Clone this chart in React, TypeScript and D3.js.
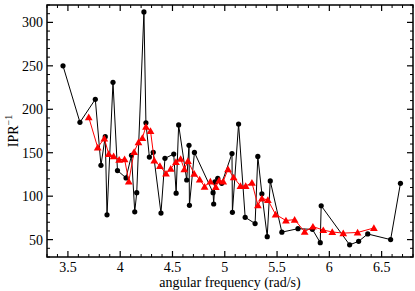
import React from "react";
import * as d3 from "d3";

const blackX = [3.453,3.615,3.762,3.816,3.857,3.874,3.931,3.974,4.056,4.108,4.139,4.158,4.227,4.246,4.279,4.316,4.39,4.428,4.512,4.535,4.559,4.636,4.658,4.662,4.71,4.888,4.894,4.906,4.933,4.971,5.069,5.073,5.132,5.195,5.29,5.316,5.355,5.406,5.435,5.546,5.70,5.838,5.913,5.922,6.194,6.28,6.367,6.586,6.68];
const blackY = [250,185,211.5,135.5,168.5,78.5,231,129.5,121,147,82,104,312,184.5,145,150.5,80.6,143.5,148.5,103.5,182,118.6,158.5,89.5,150.3,104,91,116.6,120.6,114.8,149,81.4,183,75.7,68.5,145.7,102.7,53.4,117.5,58.6,62.6,61.8,46.5,89,44,48,56.5,50,114.8];

const redX = [3.699,3.785,3.848,3.89,3.937,3.99,4.042,4.082,4.133,4.175,4.212,4.246,4.29,4.326,4.38,4.438,4.483,4.533,4.578,4.613,4.648,4.708,4.76,4.807,4.862,4.914,4.945,4.985,5.031,5.085,5.15,5.2,5.26,5.317,5.355,5.412,5.486,5.585,5.668,5.764,5.843,5.942,6.028,6.133,6.27,6.426];
const redY = [190.8,156,166.5,148.5,146,142,142.5,117,151,162,167,180,175,141,134.7,126,131.6,139.3,143,131,140.5,125.8,119.2,111,117,110.5,118,117,131,121.7,111.7,111.7,115.5,89.5,97.5,95.6,79,72,73,59,65,61,58.8,57.5,58.2,63.4];

const xTicks = [3.5,4,4.5,5,5.5,6,6.5];
const xTickLabels = ["3.5","4","4.5","5","5.5","6","6.5"];
const yTicks = [50,100,150,200,250,300];
const yTickLabels = ["50","100","150","200","250","300"];

const W = 415, H = 291;
const L = 47, R = 413, T = 5, B = 257;

export default function App() {
  const x = d3.scaleLinear().domain([3.3, 6.8]).range([L, R]);
  const y = d3.scaleLinear().domain([30, 320]).range([B, T]);
  const font = "'Liberation Serif', 'Times New Roman', serif";

  const black = blackX.map((v, i) => [v, blackY[i]] as [number, number]);
  const red = redX.map((v, i) => [v, redY[i]] as [number, number]);
  const line = d3.line<[number, number]>().x(d => x(d[0])).y(d => y(d[1]));
  const tri = d3.symbol().type(d3.symbolTriangle).size(26)()!;

  const xMinor = d3.range(33, 69).map(v => v / 10).filter(v => !xTicks.some(t => Math.abs(t - v) < 1e-6));
  const yMinor = d3.range(30, 321, 10).filter(v => v % 50 !== 0);

  const major = 6, minor = 3;

  return (
    <svg width={W} height={H} style={{ position: "absolute", left: 0, top: 0 }} fontFamily={font}>
      <rect x={0} y={0} width={W} height={H} fill="white" />
      {/* data */}
      <path d={line(black) || ""} fill="none" stroke="black" strokeWidth={1} />
      {black.map((d, i) => (
        <circle key={"b" + i} cx={x(d[0])} cy={y(d[1])} r={2.6} fill="black" />
      ))}
      <path d={line(red) || ""} fill="none" stroke="red" strokeWidth={1} />
      {red.map((d, i) => (
        <path key={"r" + i} d={tri} transform={`translate(${x(d[0])},${y(d[1]) + 0.8})`} fill="red" />
      ))}
      {/* frame */}
      <rect x={L} y={T} width={R - L} height={B - T} fill="none" stroke="black" strokeWidth={1.5} />
      {/* x ticks */}
      {xTicks.map((t, i) => (
        <g key={"xt" + i}>
          <line x1={x(t)} x2={x(t)} y1={B} y2={B - major} stroke="black" strokeWidth={1.2} />
          <line x1={x(t)} x2={x(t)} y1={T} y2={T + major} stroke="black" strokeWidth={1.2} />
          <text x={x(t)} y={272} textAnchor="middle" fontSize={14}>{xTickLabels[i]}</text>
        </g>
      ))}
      {xMinor.map((t, i) => (
        <g key={"xm" + i}>
          <line x1={x(t)} x2={x(t)} y1={B} y2={B - minor} stroke="black" strokeWidth={1} />
          <line x1={x(t)} x2={x(t)} y1={T} y2={T + minor} stroke="black" strokeWidth={1} />
        </g>
      ))}
      {/* y ticks */}
      {yTicks.map((t, i) => (
        <g key={"yt" + i}>
          <line x1={L} x2={L + major} y1={y(t)} y2={y(t)} stroke="black" strokeWidth={1.2} />
          <line x1={R} x2={R - major} y1={y(t)} y2={y(t)} stroke="black" strokeWidth={1.2} />
          <text x={43} y={y(t) + 5} textAnchor="end" fontSize={14}>{yTickLabels[i]}</text>
        </g>
      ))}
      {yMinor.map((t, i) => (
        <g key={"ym" + i}>
          <line x1={L} x2={L + minor} y1={y(t)} y2={y(t)} stroke="black" strokeWidth={1} />
          <line x1={R} x2={R - minor} y1={y(t)} y2={y(t)} stroke="black" strokeWidth={1} />
        </g>
      ))}
      {/* axis labels */}
      <text x={(L + R) / 2} y={287} textAnchor="middle" fontSize={14}>angular frequency (rad/s)</text>
      <text transform={`translate(18,131) rotate(-90)`} textAnchor="middle" fontSize={14}>
        IPR<tspan fontSize={10} dy={-6}>−1</tspan>
      </text>
    </svg>
  );
}
